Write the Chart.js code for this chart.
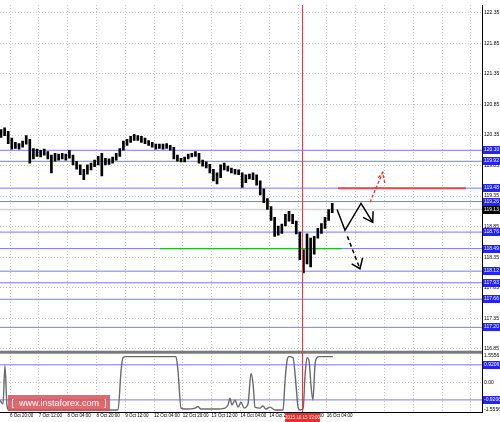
<!DOCTYPE html>
<html><head><meta charset="utf-8">
<script src="https://cdn.jsdelivr.net/npm/chart.js@4/dist/chart.umd.min.js"></script>
<style>html,body{margin:0;padding:0;background:#fff;}#wrap{position:relative;width:500px;height:422px;}canvas{display:block;}</style>
</head><body><div id="wrap"><canvas id="c" width="500" height="422"></canvas></div>
<script>
// ---- data ----
const candleIdx = [-5,-3,-1,1,3,5,7,9,11,13,15,17,19,21,23,25,27,29,31,33,35,37,39,41,43,45,47,49,51,53,55,57,59,61,63,65,67,69,71,73,75,77,79,81,83,85,87,89,91,93,95,97,99,101,103,105,107,109,111,113,115,117,119,121,123,125,127,129,131,133,135,137,139,141,143,145,147,149,151,153,155,157,159,161,163,165,167,169,171,173,175,177,179];
const highs = [120.44,120.47,120.41,120.30,120.23,120.21,120.25,120.34,120.28,120.13,
120.12,120.10,120.12,120.08,120.02,120.05,120.04,120.05,120.04,120.10,
120.02,119.92,119.86,119.79,119.86,119.89,119.94,120.00,120.05,119.97,
119.96,119.99,120.05,120.13,120.25,120.28,120.33,120.36,120.34,120.33,
120.30,120.26,120.23,120.20,120.20,120.20,120.21,120.18,120.15,120.02,
119.97,119.99,120.04,120.05,120.08,120.05,119.94,119.91,119.87,119.79,
119.73,119.86,119.89,119.84,119.81,119.79,119.78,119.73,119.70,119.71,
119.73,119.70,119.60,119.47,119.31,119.18,119.00,118.86,118.89,119.05,
119.10,119.05,118.94,118.76,118.47,118.73,118.66,118.69,118.82,118.90,
119.00,119.13,119.23];
const lows = [120.31,120.34,120.21,120.12,120.13,120.12,120.15,120.20,119.89,119.96,
120.00,119.99,120.02,119.96,119.73,119.92,119.94,119.96,119.94,119.97,
119.86,119.79,119.70,119.62,119.71,119.78,119.83,119.86,119.68,119.86,
119.87,119.89,119.94,120.00,120.10,120.18,120.23,120.26,120.26,120.23,
120.21,120.18,120.15,120.12,120.13,120.12,120.13,120.10,119.96,119.92,
119.91,119.91,119.96,119.99,120.00,119.89,119.84,119.81,119.73,119.60,
119.55,119.65,119.78,119.76,119.73,119.71,119.70,119.49,119.57,119.63,
119.62,119.53,119.37,119.24,119.13,118.95,118.69,118.71,118.74,118.86,
118.94,118.90,118.73,118.31,118.09,118.24,118.19,118.40,118.66,118.74,
118.82,118.95,119.08];

const priceTicks = [116.85,117.10,117.35,117.60,117.85,118.10,118.35,118.60,118.85,119.10,119.35,119.60,119.85,120.10,120.35,120.60,120.85,121.10,121.35,121.60,121.85,122.10,122.35];
const priceLevels = [120.10,119.92,119.48,119.26,118.76,118.49,118.12,117.93,117.66,117.20];
const currentPrice = 119.13;

const timeTickIdx = [0,16,32,48,64,80,96,112,128,144,160,176,192,208,224,240,256];
const timeLabels = ['6 Oct 20:00','7 Oct 12:00','8 Oct 04:00','8 Oct 20:00','9 Oct 12:00','12 Oct 04:00','12 Oct 20:00','13 Oct 12:00','14 Oct 04:00','14 Oct 20:00','15 Oct 12:00','16 Oct 04:00'];
const cursorIdx = 162.2;
const cursorLabel = '2015.10.15 13:00';

const greenIdx = [83.3,184.4];   const greenPrice = 118.49;
const redIdx = [182.2,253.3];    const redPrice = 119.48;

const fcSolidIdx = [181.7,186.1,195.0,201.5];   const fcSolidPrice = [119.13,118.79,119.23,118.92];
const fcSolidHeadIdx = [196.1,201.5,201.7];     const fcSolidHeadPrice = [119.00,118.92,119.10];
const fcDashIdx = [187.4,194.4];                const fcDashPrice = [118.69,118.16];
const fcDashHeadIdx = [189.8,194.4,195.9];      const fcDashHeadPrice = [118.24,118.16,118.34];
const fcRedIdx = [200.0,207.1];                 const fcRedPrice = [119.25,119.74];
const fcRedHeadIdx = [204.6,207.1,208.3];       const fcRedHeadPrice = [119.65,119.74,119.54];

const indIdx = [-5.6,-3.9,-2.8,-1.7,-0.6,60,61.7,62.8,64.4,92.2,93.3,95,97.2,102.8,104.4,106,113.9,119.4,121.1,122.2,123.3,125,126.7,128.3,130,132.2,133.9,135,136.1,138.9,140.6,142.2,144.4,147.2,151.7,152.8,153.9,155,157.2,158.9,160,161.1,162.8,163.9,165,166.1,167.2,168.3,169.4,170.6,171.7,179.4];
const indVal = [-0.93,-1.14,0.88,-1.19,-1.45,-1.45,0.62,1.30,1.35,1.35,0.62,-1.35,-1.40,-1.35,-1.27,-1.40,-1.40,-1.35,-1.19,-0.83,-1.19,-0.93,-1.30,-1.04,-1.35,-1.14,0.47,-0.05,-1.30,-1.35,-1.24,-1.40,-1.30,-1.45,-1.45,0.10,1.14,1.35,1.30,-0.16,-1.30,-1.45,-1.40,0.36,1.30,1.14,-0.16,-0.93,0.88,1.30,1.35,1.35];
const indMax = 1.5556, indMin = -1.5556;
const indTicks = [0];
const indLevels = [0.9206,-0.9206];

// ---- chart ----
const X_MIN = -5.56, X_MAX = 262.2;
const FONT = 'Liberation Sans';
const pts = (xs, ys) => xs.map((x,i)=>({x, y: Array.isArray(ys) ? ys[i] : ys}));

const datasets = [];
datasets.push({type:'bar', data: candleIdx.map((x,i)=>({x, y:[lows[i], highs[i]]})), backgroundColor:'#000', borderWidth:0, barThickness:2, yAxisID:'y', order:0});
datasets.push({type:'line', data: pts([X_MIN,X_MAX], currentPrice), borderColor:'#d4d4d4', borderWidth:1.5, pointRadius:0, yAxisID:'y', order:6});
priceLevels.forEach(v=>datasets.push({type:'line', data: pts([X_MIN,X_MAX], v), borderColor:'#7878ff', borderWidth:1, pointRadius:0, yAxisID:'y', order:5}));
indLevels.forEach(v=>datasets.push({type:'line', data: pts([X_MIN,X_MAX], v), borderColor:'#7878ff', borderWidth:1, pointRadius:0, yAxisID:'yi', order:5}));
datasets.push({type:'line', data: pts(greenIdx, greenPrice), borderColor:'#22bb22', borderWidth:1.3, pointRadius:0, yAxisID:'y', order:3});
datasets.push({type:'line', data: pts(redIdx, redPrice), borderColor:'#f04848', borderWidth:2, pointRadius:0, yAxisID:'y', order:3});
datasets.push({type:'line', data: pts(fcSolidIdx, fcSolidPrice), borderColor:'#000', borderWidth:1.5, pointRadius:0, yAxisID:'y', order:1});
datasets.push({type:'line', data: pts(fcSolidHeadIdx, fcSolidHeadPrice), borderColor:'#000', borderWidth:1.5, pointRadius:0, yAxisID:'y', order:1});
datasets.push({type:'line', data: pts(fcDashIdx, fcDashPrice), borderColor:'#000', borderWidth:1.5, borderDash:[4,3], pointRadius:0, yAxisID:'y', order:1});
datasets.push({type:'line', data: pts(fcDashHeadIdx, fcDashHeadPrice), borderColor:'#000', borderWidth:1.5, pointRadius:0, yAxisID:'y', order:1});
datasets.push({type:'line', data: pts(fcRedIdx, fcRedPrice), borderColor:'#f03030', borderWidth:1.3, borderDash:[3,2], pointRadius:0, yAxisID:'y', order:1});
datasets.push({type:'line', data: pts(fcRedHeadIdx, fcRedHeadPrice), borderColor:'#f03030', borderWidth:1.3, borderDash:[3,2], pointRadius:0, yAxisID:'y', order:1});
datasets.push({type:'line', data: pts(indIdx, indVal), borderColor:'#6a6a6a', borderWidth:1.4, pointRadius:0, cubicInterpolationMode:'monotone', yAxisID:'yi', order:2});

function labelBox(ctx, y, text, bg){
  ctx.fillStyle = bg;
  ctx.fillRect(483, Math.round(y)-4, 17, 8);
  ctx.fillStyle = '#fff';
  ctx.font = '5px "'+FONT+'"';
  ctx.textAlign = 'left'; ctx.textBaseline = 'middle';
  ctx.fillText(text, 484, Math.round(y));
}

const overlay = {
  id:'overlay',
  beforeDatasetsDraw(chart){
    const {ctx, chartArea:a, scales} = chart;
    const sy = scales.yi.top;
    ctx.save();
    ctx.fillStyle = '#7a7a7a';
    ctx.fillRect(a.left, sy-2, a.right-a.left, 3);
    ctx.restore();
  },
  afterDatasetsDraw(chart){
    const {ctx, chartArea:a, scales} = chart;
    const cx = Math.round(scales.x.getPixelForValue(cursorIdx)) + 0.5;
    ctx.save();
    ctx.strokeStyle = '#ff3030'; ctx.lineWidth = 1;
    ctx.beginPath(); ctx.moveTo(cx, a.top); ctx.lineTo(cx, a.bottom); ctx.stroke();
    ctx.restore();
  },
  afterDraw(chart){
    const {ctx, chartArea:a, scales} = chart;
    ctx.save();
    ctx.fillStyle = '#000'; ctx.font = '5px "'+FONT+'"';
    ctx.textAlign = 'left'; ctx.textBaseline = 'middle';
    ctx.fillText(indMax.toFixed(4), 484, scales.yi.top + 3);
    ctx.fillText(indMin.toFixed(4), 484, scales.yi.bottom - 2);
    priceLevels.forEach(v=>labelBox(ctx, scales.y.getPixelForValue(v), v.toFixed(2), '#2323ff'));
    labelBox(ctx, scales.y.getPixelForValue(currentPrice), currentPrice.toFixed(2), '#000');
    indLevels.forEach(v=>labelBox(ctx, scales.yi.getPixelForValue(v), v.toFixed(4), '#2323ff'));
    const cx = scales.x.getPixelForValue(cursorIdx);
    ctx.fillStyle = '#f02a2a';
    ctx.fillRect(Math.round(cx)-17, 413, 35, 9);
    ctx.fillStyle = '#fff'; ctx.font = '4.5px "'+FONT+'"';
    ctx.textAlign = 'center'; ctx.textBaseline = 'middle';
    ctx.fillText(cursorLabel, cx+0.5, 417.5);
    ctx.fillStyle = 'rgba(214,80,86,0.85)';
    ctx.fillRect(8, 395, 102, 16);
    ctx.fillStyle = '#fff'; ctx.font = '9px "'+FONT+'"';
    ctx.textAlign = 'center'; ctx.textBaseline = 'middle';
    ctx.fillText('[  www.instaforex.com  ]', 59, 403.5);
    ctx.restore();
  }
};

const gridCol = '#c4c4c4';
new Chart(document.getElementById('c'), {
  type:'bar',
  data:{datasets},
  options:{
    responsive:false, animation:false, devicePixelRatio:1,
    layout:{padding:0},
    plugins:{legend:{display:false}, tooltip:{enabled:false}},
    scales:{
      x:{type:'linear', min:X_MIN, max:X_MAX, offset:false, position:'bottom',
        grid:{offset:false, color:gridCol, lineWidth:1, drawTicks:false},
        border:{display:true, color:'#000', dash:[1,2]},
        ticks:{align:'start', padding:1, autoSkip:false, maxRotation:0, minRotation:0, color:'#000',
          font:{family:FONT, size:4.5},
          callback:(v,i)=> timeLabels[i] || ''},
        afterBuildTicks:s=>{ s.ticks = timeTickIdx.map(v=>({value:v})); },
        afterFit:s=>{ s.height = 10; }
      },
      y:{type:'linear', position:'right', stack:'p', stackWeight:352, min:116.784, max:122.48,
        grid:{color:gridCol, lineWidth:1, drawTicks:false},
        border:{display:true, color:'#000', dash:[1,2]},
        ticks:{padding:2, color:'#000', font:{family:FONT, size:5}, callback:v=>Number(v).toFixed(2)},
        afterBuildTicks:s=>{ s.ticks = priceTicks.map(v=>({value:v})); },
        afterFit:s=>{ s.width = 18; }
      },
      yi:{type:'linear', position:'right', stack:'p', stackWeight:60, min:indMin, max:indMax,
        grid:{color:gridCol, lineWidth:1, drawTicks:false},
        border:{display:true, color:'#000', dash:[1,2]},
        ticks:{padding:2, color:'#000', font:{family:FONT, size:5}, callback:v=> Number(v).toFixed(2)},
        afterBuildTicks:s=>{ s.ticks = indTicks.map(v=>({value:v})); },
        afterFit:s=>{ s.width = 18; }
      }
    }
  },
  plugins:[overlay]
});
</script>
</body></html>
